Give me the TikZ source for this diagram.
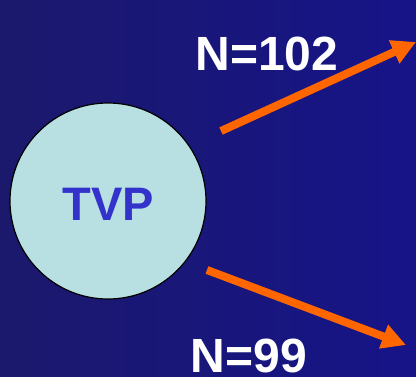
\documentclass[tikz,border=0pt]{standalone}
\usepackage{fontspec}
\setmainfont{Liberation Sans}
\usetikzlibrary{arrows.meta}

\definecolor{bgleft}{RGB}{27,25,108}
\definecolor{bgright}{RGB}{22,20,136}
\definecolor{cellfill}{RGB}{184,224,227}
\definecolor{tvpblue}{RGB}{51,51,204}
\definecolor{arroworange}{RGB}{255,102,0}

\tikzset{
    count/.style={text=white, font=\fontsize{48}{48}\selectfont\bfseries, inner sep=0pt, anchor=base},
    flow/.style={draw=arroworange, line width=8pt, -{Triangle[length=24pt,width=24pt]}}
}

\begin{document}
\begin{tikzpicture}[x=1pt, y=-1pt]
    \shade[left color=bgleft, right color=bgright] (0,0) rectangle (416,376);
    \useasboundingbox (0,0) rectangle (416,376);

    \node[circle, draw=black, line width=1.2pt, fill=cellfill, minimum size=196pt, inner sep=0pt] (tvp) at (108,201) {};
    \node[text=tvpblue, font=\fontsize{47}{47}\selectfont\bfseries, inner sep=0pt, anchor=base] (tvplabel) at (108,220) {TVP};

    \coordinate (up start) at (221,131);
    \coordinate (up end) at (416,42);
    \coordinate (down start) at (207,270);
    \coordinate (down end) at (406,345);

    \draw[flow] (up start) -- (up end);
    \draw[flow] (down start) -- (down end);

    \node[count] (upper) at (267,70) {N=102};
    \node[count] (lower) at (249,372) {N=99};
\end{tikzpicture}
\end{document}
